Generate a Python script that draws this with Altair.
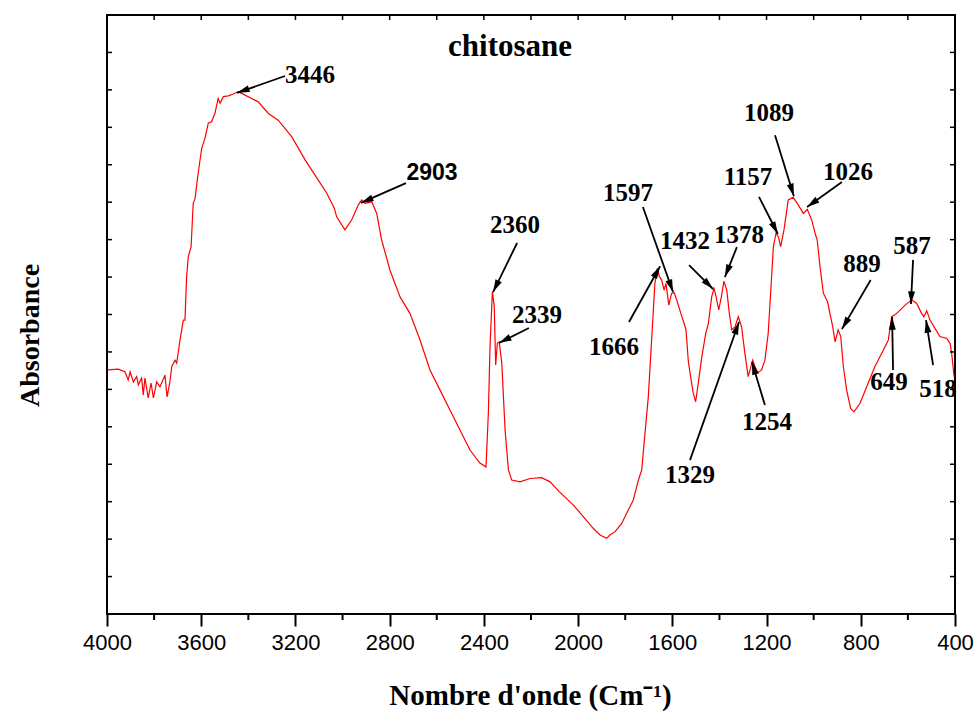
import math
import altair as alt
import pandas as pd

# ---- spectrum (wavenumber cm-1, absorbance in arbitrary units) ----
wn_a = [3997, 3952, 3924, 3910, 3902, 3888, 3874, 3867, 3853, 3846,
        3839, 3825, 3813, 3803, 3789, 3775, 3754, 3745, 3733, 3725,
        3711, 3704, 3690, 3676, 3669, 3662, 3655, 3643, 3634, 3626,
        3615, 3598, 3584, 3570, 3556, 3542, 3528, 3520, 3506, 3485,
        3464, 3443, 3414, 3386, 3358, 3315, 3273, 3216, 3159, 3103,
        3067, 3035]
ab_a = [6.52, 6.54, 6.47, 6.25, 6.47, 6.20, 6.34, 6.12, 6.30, 5.85,
        6.30, 5.77, 6.17, 5.77, 6.20, 6.07, 6.38, 5.80, 6.20, 6.61,
        6.78, 6.70, 7.32, 7.85, 7.85, 9.01, 9.54, 9.81, 10.97, 11.10,
        11.68, 12.44, 12.71, 13.11, 13.15, 13.37, 13.77, 13.64, 13.82, 13.84,
        13.89, 13.95, 13.86, 13.77, 13.68, 13.37, 13.19, 12.75, 12.13, 11.59,
        11.24, 10.84]

wn_b = [3025, 2990, 2961, 2933, 2919, 2905, 2876, 2855, 2834, 2799,
        2756, 2714, 2671, 2629, 2586, 2544, 2501, 2459, 2417, 2391,
        2381, 2374, 2364, 2356, 2350, 2343, 2335, 2324, 2310, 2296,
        2282, 2247, 2204, 2155, 2119, 2080]
ab_b = [10.61, 10.26, 10.53, 10.93, 11.06, 10.97, 11.01, 10.70, 9.99, 9.19,
        8.47, 8.03, 7.32, 6.52, 5.98, 5.45, 4.91, 4.38, 4.03, 3.93,
        5.37, 7.14, 8.61, 8.21, 6.65, 7.23, 7.27, 6.70, 4.91, 3.85,
        3.58, 3.53, 3.62, 3.64, 3.53, 3.27]

wn_c = [2020, 1978, 1936, 1907, 1879, 1865, 1843, 1815, 1787, 1766,
        1744, 1730, 1716, 1702, 1688, 1674, 1664, 1655, 1645, 1635,
        1627, 1615, 1603, 1592, 1579, 1564, 1550, 1542, 1532, 1518,
        1511, 1501, 1490, 1475, 1458, 1447, 1433, 1423, 1414, 1403,
        1392, 1381, 1369, 1358, 1348, 1334, 1320, 1306, 1292, 1278,
        1259, 1249, 1238, 1221, 1207, 1193, 1182, 1171, 1160, 1150,
        1140, 1126]
ab_c = [2.91, 2.60, 2.29, 2.11, 2.02, 2.11, 2.20, 2.42, 2.78, 3.04,
        3.58, 3.85, 4.83, 5.80, 7.32, 8.83, 9.23, 9.01, 8.92, 8.65,
        8.83, 8.25, 8.57, 8.58, 8.34, 8.03, 7.76, 7.59, 6.74, 6.16,
        5.89, 5.67, 6.16, 6.87, 7.50, 7.76, 8.47, 8.70, 8.47, 8.12,
        8.47, 8.89, 8.65, 8.03, 7.59, 7.67, 7.94, 7.67, 6.96, 6.34,
        6.78, 6.61, 6.44, 6.52, 6.78, 7.50, 8.65, 9.81, 10.17, 10.08,
        9.81, 10.26]

wn_d = [1108, 1087, 1065, 1044, 1027, 1008, 994, 985, 973, 959,
        941, 931, 919, 909, 896, 885, 874, 860, 843, 829,
        803, 775, 740, 704, 683, 669, 655, 641, 612, 584,
        563, 542, 532, 520, 506, 485, 464, 435, 421, 414,
        404]
ab_d = [11.06, 11.13, 10.92, 10.70, 10.81, 10.52, 10.17, 9.99, 9.28, 8.57,
        8.34, 8.03, 7.67, 7.27, 7.59, 7.41, 6.61, 5.98, 5.49, 5.40,
        5.63, 6.07, 6.61, 7.05, 7.32, 7.94, 7.99, 8.07, 8.25, 8.39,
        8.30, 8.03, 7.94, 8.10, 7.85, 7.63, 7.41, 7.36, 7.23, 6.96,
        6.34]

# ---- peak annotations: label, label position, arrow tail, arrow head ----
ann_label = ["3446", "2903", "2360", "2339", "1666", "1597", "1432", "1378", "1329",
             "1254", "1157", "1089", "1026", "889", "587", "649", "518"]
ann_serif = [True, False, True, True, True, True, True, True, True,
             True, True, True, True, True, True, True, True]
ann_lx = [3138, 2620, 2268, 2175, 1848, 1788, 1546, 1317, 1525, 1198, 1279, 1190, 854, 795, 583, 680, 472]
ann_ly = [14.40, 11.78, 10.39, 7.99, 7.13, 11.24, 9.96, 10.12, 3.71, 5.13, 11.67, 13.38, 11.81, 9.35, 9.83, 6.20, 6.01]
ann_tx = [3244, 2731, 2259, 2209, 1784, 1725, 1529, 1326, 1525, 1207, 1232, 1164, 880, 758, 578, 663, 493]
ann_ty = [14.37, 11.51, 9.91, 7.64, 7.80, 10.87, 9.32, 9.80, 4.11, 5.58, 11.14, 12.79, 11.54, 8.92, 9.46, 6.52, 6.65]
ann_hx = [3448, 2922, 2361, 2336, 1652, 1597, 1427, 1377, 1317, 1262, 1152, 1084, 1028, 880, 587, 667, 523]
ann_hy = [13.92, 10.98, 8.60, 7.24, 9.29, 8.60, 8.68, 9.00, 7.80, 6.73, 10.15, 11.16, 10.87, 7.61, 8.28, 7.93, 7.85]

x_major = [4000, 3600, 3200, 2800, 2400, 2000, 1600, 1200, 800, 400]
x_minor = [3800, 3400, 3000, 2600, 2200, 1800, 1400, 1000, 600]
x_top = list(range(600, 4000, 200))
y_inner = list(range(1, 16))

W, H = 848, 599
PX_WN = W / 3600.0
PX_A = H / 16.0

spec_df = pd.DataFrame({"wn": wn_a + wn_b + wn_c + wn_d, "a": ab_a + ab_b + ab_c + ab_d})

ann_df = pd.DataFrame({"label": ann_label, "serif": ann_serif, "lx": ann_lx, "ly": ann_ly,
                       "tx": ann_tx, "ty": ann_ty, "hx": ann_hx, "hy": ann_hy})
angles = []
for tx, ty, hx, hy in zip(ann_tx, ann_ty, ann_hx, ann_hy):
    dx = -(hx - tx) * PX_WN
    dy = -(hy - ty) * PX_A
    angles.append(math.degrees(math.atan2(dx, -dy)) % 360)
ann_df["ang"] = angles

xs = alt.Scale(domain=[400, 4000], reverse=True, nice=False, zero=False)
ys = alt.Scale(domain=[0, 16], nice=False, zero=False)

line = alt.Chart(spec_df).mark_line(color="#ff0000", strokeWidth=1.2, clip=True).encode(
    x=alt.X("wn:Q", scale=xs, axis=alt.Axis(
        values=x_major, format="d", title="Nombre d'onde (Cm⁻¹)",
        labelFont="Liberation Sans", labelFontSize=22, labelColor="black",
        labelPadding=6, labelOverlap=False, labelFlush=False,
        tickSize=12, tickWidth=2, tickColor="black", domain=False, grid=False,
        titleFont="Liberation Serif", titleFontSize=29, titleFontWeight="bold",
        titleColor="black", titleX=423, titleY=81, titleAlign="center", titleBaseline="middle")),
    y=alt.Y("a:Q", scale=ys, axis=alt.Axis(
        title="Absorbance", labels=False, ticks=False, domain=False, grid=False,
        titleFont="Liberation Serif", titleFontSize=28, titleFontWeight="bold",
        titleColor="black", titleX=-77, titleY=320, titleAngle=270,
        titleAlign="center", titleBaseline="middle")),
)

minor_df = pd.DataFrame({"wn": x_minor})
minor = alt.Chart(minor_df).mark_rule(color="black", strokeWidth=2).encode(
    x=alt.X("wn:Q", scale=xs), y=alt.value(H), y2=alt.value(H + 6))

top_df = pd.DataFrame({"wn": x_top})
top = alt.Chart(top_df).mark_rule(color="black", strokeWidth=1.5).encode(
    x=alt.X("wn:Q", scale=xs), y=alt.value(0), y2=alt.value(5))

yt_df = pd.DataFrame({"a": y_inner})
left_t = alt.Chart(yt_df).mark_rule(color="black", strokeWidth=1.5).encode(
    y=alt.Y("a:Q", scale=ys), x=alt.value(0), x2=alt.value(5))
right_t = alt.Chart(yt_df).mark_rule(color="black", strokeWidth=1.5).encode(
    y=alt.Y("a:Q", scale=ys), x=alt.value(W - 5), x2=alt.value(W))

shafts = alt.Chart(ann_df).mark_rule(color="black", strokeWidth=1.8).encode(
    x=alt.X("tx:Q", scale=xs), y=alt.Y("ty:Q", scale=ys), x2="hx:Q", y2="hy:Q")

heads = alt.Chart(ann_df).mark_point(
    shape="M0,0L-0.55,2L0.55,2Z", filled=True, color="black", opacity=1,
    size=160, strokeWidth=0).encode(
    x=alt.X("hx:Q", scale=xs), y=alt.Y("hy:Q", scale=ys),
    angle=alt.Angle("ang:Q", scale=None))

labels_serif = alt.Chart(ann_df).transform_filter("datum.serif").mark_text(
    font="Liberation Serif", fontWeight="bold", fontSize=25, color="black",
    align="center", baseline="middle").encode(
    x=alt.X("lx:Q", scale=xs), y=alt.Y("ly:Q", scale=ys), text="label:N")

labels_sans = alt.Chart(ann_df).transform_filter("!datum.serif").mark_text(
    font="Liberation Sans", fontWeight="bold", fontSize=23, color="black",
    align="center", baseline="middle").encode(
    x=alt.X("lx:Q", scale=xs), y=alt.Y("ly:Q", scale=ys), text="label:N")

title_df = pd.DataFrame({"wn": [2289], "a": [15.14], "t": ["chitosane"]})
title = alt.Chart(title_df).mark_text(
    font="Liberation Serif", fontWeight="bold", fontSize=31, color="black",
    align="center", baseline="middle").encode(
    x=alt.X("wn:Q", scale=xs), y=alt.Y("a:Q", scale=ys), text="t:N")

chart = alt.layer(line, minor, top, left_t, right_t, shafts, heads,
                  labels_serif, labels_sans, title).properties(
    width=W, height=H,
    autosize=alt.AutoSizeParams(type="none"),
    padding={"left": 107, "top": 15, "right": 25, "bottom": 99},
    background="white",
).configure_view(stroke="black", strokeWidth=2)

chart.save("out.html", embed_options={"renderer": "svg", "actions": False})
